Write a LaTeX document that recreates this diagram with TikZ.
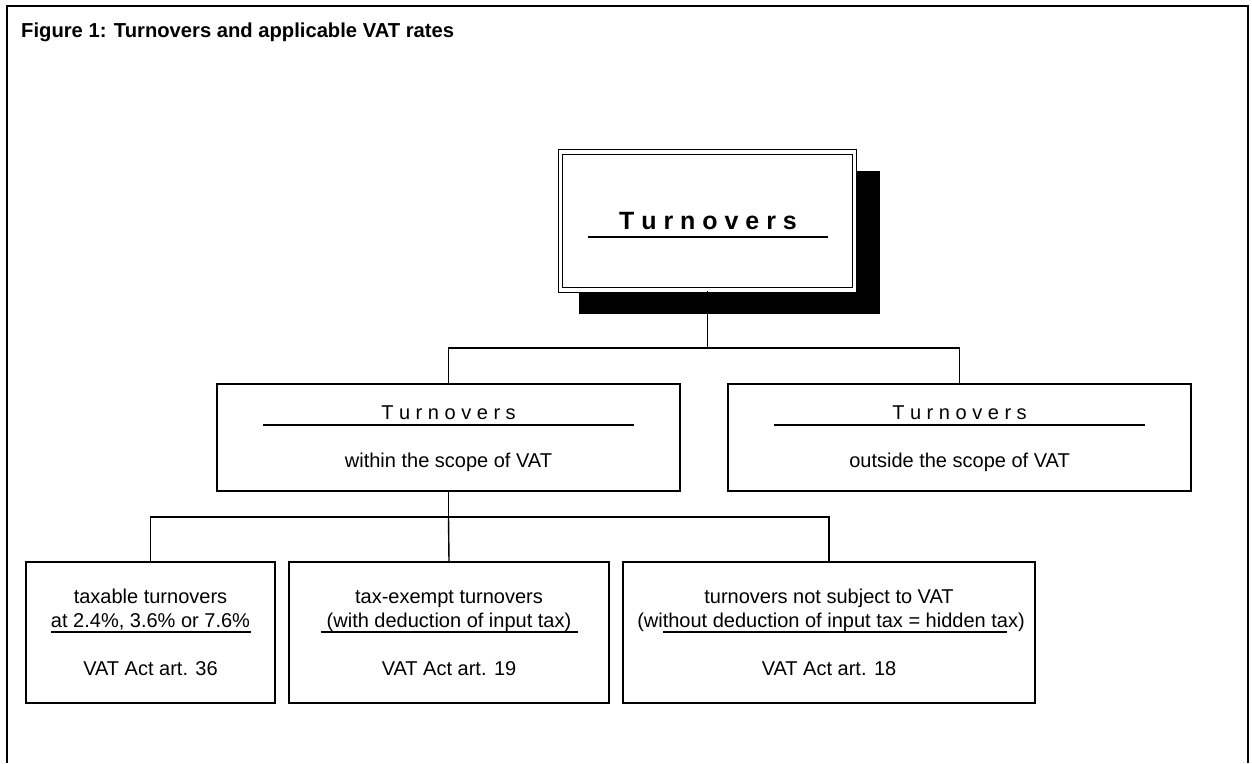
\documentclass[tikz,border=0pt]{standalone}
\usepackage{fontspec}
\setmainfont{Liberation Sans}
\begin{document}
\begin{tikzpicture}[x=1pt,y=-1pt,
  box/.style={draw,line width=1.4pt,fill=white,rectangle,inner sep=0pt},
  conn/.style={line width=1.4pt},
  uline/.style={line width=1.2pt},
  txt/.style={anchor=base,inner sep=0pt,font=\fontsize{20}{24}\selectfont},
  bigtxt/.style={anchor=base,inner sep=0pt,font=\bfseries\fontsize{25}{30}\selectfont},
  titletxt/.style={anchor=base west,inner sep=0pt,font=\bfseries\fontsize{20.2}{24}\selectfont}]
\useasboundingbox (0,0) rectangle (1252,763);
% frame
\draw[line width=2.2pt] (7,763) -- (7,6) -- (1248,6) -- (1248,763);
\node[titletxt] (title) at (21,37) {Figure 1: Turnovers and applicable VAT rates};
% top box with shadow
\fill (579,171) rectangle (880,314);
\node[box,double,double distance=3.2pt,line width=1.2pt,minimum width=294pt,minimum height=138pt] (top) at (707.5,221) {};
\node[bigtxt] (toptxt) at (708,229) {T u r n o v e r s};
\coordinate (tu1) at (588,237); \coordinate (tu2) at (828,237);
\draw[uline] (tu1) -- (tu2);
% middle boxes
\node[box,minimum width=463pt,minimum height=107pt] (mid1) at (448.5,437.5) {};
\node[box,minimum width=463pt,minimum height=107pt] (mid2) at (959.5,437.5) {};
\node[txt] (m1a) at (448.5,419) {T u r n o v e r s};
\node[txt] (m1b) at (448.5,467) {within the scope of VAT};
\coordinate (m1u1) at (263,425); \coordinate (m1u2) at (634,425);
\draw[uline] (m1u1) -- (m1u2);
\node[txt] (m2a) at (959.5,419) {T u r n o v e r s};
\node[txt] (m2b) at (959.5,467) {outside the scope of VAT};
\coordinate (m2u1) at (774,425); \coordinate (m2u2) at (1145,425);
\draw[uline] (m2u1) -- (m2u2);
% connectors top
\coordinate (j1) at (707.5,348);
\draw[conn] (top.south) -- (j1);
\draw[conn] (mid1.north) |- (j1) -| (mid2.north);
% bottom boxes
\node[box,minimum width=249pt,minimum height=141pt] (b1) at (150.5,632.5) {};
\node[box,minimum width=320pt,minimum height=141pt] (b2) at (449,632.5) {};
\node[box,minimum width=412pt,minimum height=141pt] (b3) at (829,632.5) {};
\node[txt] (b1a) at (150.5,603) {taxable turnovers};
\node[txt] (b1b) at (150.5,627) {at 2.4\%, 3.6\% or 7.6\%};
\node[txt] (b1c) at (150.5,675) {VAT Act art. 36};
\coordinate (b1u1) at (51,632); \coordinate (b1u2) at (251,632);
\draw[uline] (b1u1) -- (b1u2);
\node[txt] (b2a) at (449,603) {tax-exempt turnovers};
\node[txt] (b2b) at (449,627) {(with deduction of input tax)};
\node[txt] (b2c) at (449,675) {VAT Act art. 19};
\coordinate (b2u1) at (321,632); \coordinate (b2u2) at (578,632);
\draw[uline] (b2u1) -- (b2u2);
\node[txt] (b3a) at (829,603) {turnovers not subject to VAT};
\node[txt] (b3b) at (831,627) {(without deduction of input tax = hidden tax)};
\node[txt] (b3c) at (829,675) {VAT Act art. 18};
\coordinate (b3u1) at (663,632); \coordinate (b3u2) at (1007,632);
\draw[uline] (b3u1) -- (b3u2);
% connectors bottom
\coordinate (j2) at (448.5,517);
\draw[conn] (mid1.south) -- (j2);
\draw[conn] (b1.north) |- (j2) -| (b3.north);
\draw[conn] (j2) -- (b2.north);
\end{tikzpicture}
\end{document}
